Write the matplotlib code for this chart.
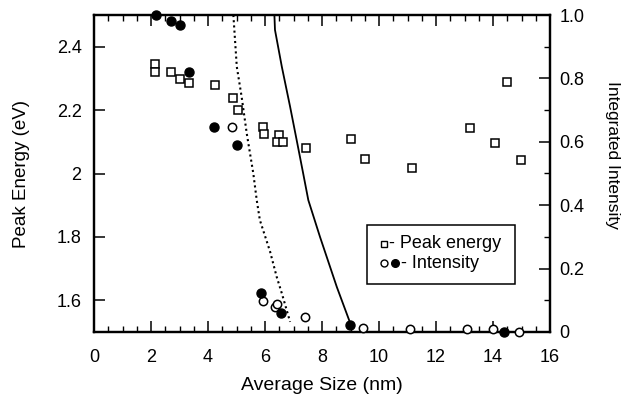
import matplotlib
matplotlib.use("Agg")
import matplotlib.pyplot as plt
from matplotlib.lines import Line2D
from matplotlib.patches import Rectangle
from matplotlib.ticker import MultipleLocator, FixedLocator

plt.rcParams['font.family'] = ['Liberation Sans', 'DejaVu Sans']

# Peak energy (squares, left axis)
pe_size = [2.14, 2.14, 2.71, 3.03, 3.35, 4.25, 4.87, 5.04, 5.92, 5.98, 6.49, 6.41,
           6.62, 7.44, 9.03, 9.52, 11.17, 13.19, 14.08, 14.48, 14.97]
pe_energy = [2.345, 2.32, 2.32, 2.298, 2.286, 2.28, 2.238, 2.2, 2.147, 2.125, 2.12, 2.1,
             2.1, 2.08, 2.11, 2.045, 2.018, 2.144, 2.095, 2.29, 2.042]

# Intensity filled circles (right axis)
fi_size = [2.16, 2.70, 3.03, 3.35, 4.22, 5.03, 5.86, 6.56, 8.98, 14.39]
fi_int = [1.0, 0.98, 0.969, 0.82, 0.648, 0.589, 0.122, 0.059, 0.022, 0.0]

# Intensity open circles (right axis)
oi_size = [4.84, 5.94, 6.35, 6.41, 7.40, 9.45, 11.09, 13.08, 14.01, 14.91]
oi_int = [0.648, 0.099, 0.08, 0.087, 0.046, 0.012, 0.008, 0.008, 0.008, 0.0]

# Dotted curve
dot_x = [4.89, 5.01, 5.18, 5.36, 5.59, 5.71, 5.82, 6.18, 6.41, 6.59, 6.88]
dot_y = [1.0, 0.837, 0.742, 0.626, 0.5, 0.416, 0.353, 0.253, 0.174, 0.122, 0.032]

# Solid curve
sol_x = [6.33, 6.35, 6.59, 6.88, 7.11, 7.34, 7.52, 7.93, 8.52, 9.04]
sol_y = [1.0, 0.953, 0.837, 0.711, 0.606, 0.5, 0.416, 0.3, 0.142, 0.016]

x_ticks = [0, 2, 4, 6, 8, 10, 12, 14, 16]
y_left_ticks = [1.6, 1.8, 2.0, 2.2, 2.4]
y_left_labels = ["1.6", "1.8", "2", "2.2", "2.4"]
y_right_ticks = [0, 0.2, 0.4, 0.6, 0.8, 1.0]
y_right_labels = ["0", "0.2", "0.4", "0.6", "0.8", "1.0"]

W, H = 630, 401
fig = plt.figure(figsize=(6.3, 4.01), dpi=100)
ax = fig.add_axes([94/W, 1-332/H, (550-94)/W, (332-15)/H])
ax2 = ax.twinx()

fs = 13

ax.plot(pe_size, pe_energy, linestyle='none', marker='s', markersize=6,
        markerfacecolor='white', markeredgecolor='black', markeredgewidth=1.1, clip_on=False, zorder=3)
ax.set_xlim(0, 16)
ax.set_ylim(1.5, 2.5)
ax.xaxis.set_major_locator(FixedLocator(x_ticks))
ax.xaxis.set_minor_locator(MultipleLocator(0.5))
ax.set_xticklabels([str(v) for v in x_ticks])
ax.yaxis.set_major_locator(FixedLocator(y_left_ticks))
ax.set_yticklabels(y_left_labels)
ax.tick_params(axis='both', which='major', direction='in', length=8, width=1.1,
               labelsize=fs, top=True)
ax.tick_params(axis='x', which='major', pad=12)
ax.tick_params(axis='y', which='major', pad=9)
ax.tick_params(axis='x', which='minor', direction='in', length=4, width=1.0, top=True)
ax.set_xlabel("Average Size (nm)", fontsize=14, labelpad=8)
ax.set_ylabel("Peak Energy (eV)", fontsize=13.5, labelpad=19)

ax2.plot(dot_x, dot_y, color='black', linestyle=(0, (1.0, 1.5)), linewidth=1.5, zorder=2)
ax2.plot(sol_x, sol_y, color='black', linestyle='-', linewidth=1.3, zorder=2)
ax2.plot(oi_size, oi_int, linestyle='none', marker='o', markersize=6,
         markerfacecolor='white', markeredgecolor='black', markeredgewidth=1.1, clip_on=False, zorder=3)
ax2.plot(fi_size, fi_int, linestyle='none', marker='o', markersize=6.5,
         markerfacecolor='black', markeredgecolor='black', clip_on=False, zorder=4)
ax2.set_ylim(0, 1.0)
ax2.yaxis.set_major_locator(FixedLocator(y_right_ticks))
ax2.yaxis.set_minor_locator(MultipleLocator(0.1))
ax2.set_yticklabels(y_right_labels)
ax2.tick_params(axis='y', which='major', direction='in', length=8, width=1.1, labelsize=fs, pad=7)
ax2.tick_params(axis='y', which='minor', direction='in', length=4, width=1.0)
ax2.set_ylabel("Integrated Intensity", fontsize=12.5, rotation=270, labelpad=25)
ax2.yaxis.label.set_y((332 - 155) / 317)

for a in (ax, ax2):
    for s in a.spines.values():
        s.set_linewidth(1.6)

# Legend drawn in figure pixel coordinates
def fx(px):
    return px / W

def fy(py):
    return 1 - py / H

tf = fig.transFigure
fig.patches.append(Rectangle((fx(367), fy(284)), fx(515) - fx(367), fy(225) - fy(284),
                             transform=tf, fill=False, edgecolor='black', linewidth=1.1, zorder=5))
fig.lines.append(Line2D([fx(384)], [fy(244)], transform=tf, linestyle='none', marker='s',
                        markersize=5, markerfacecolor='white', markeredgecolor='black',
                        markeredgewidth=1.0))
fig.text(fx(389), fy(244), "- Peak energy", fontsize=13, va='center', ha='left')
fig.lines.append(Line2D([fx(384)], [fy(263)], transform=tf, linestyle='none', marker='o',
                        markersize=5, markerfacecolor='white', markeredgecolor='black',
                        markeredgewidth=1.0))
fig.lines.append(Line2D([fx(395)], [fy(263)], transform=tf, linestyle='none', marker='o',
                        markersize=5.5, markerfacecolor='black', markeredgecolor='black'))
fig.text(fx(401), fy(263), "- Intensity", fontsize=13, va='center', ha='left')

fig.savefig("out.png", dpi=100)
